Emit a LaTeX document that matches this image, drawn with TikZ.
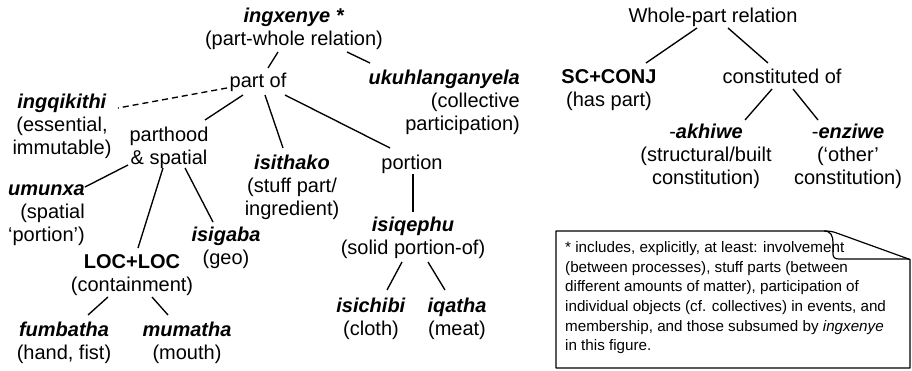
\documentclass[tikz,border=0pt]{standalone}
\usepackage{fontspec}
\setmainfont{Liberation Sans}
\newcommand{\mycl}[1]{\begin{tabular}[t]{@{}c@{}}#1\end{tabular}}
\newcommand{\myrl}[1]{\begin{tabular}[t]{@{}r@{}}#1\end{tabular}}
\newcommand{\myll}[1]{\begin{tabular}[t]{@{}l@{}}#1\end{tabular}}
\newcommand{\mybi}[1]{\textbf{\textit{#1}}}
\begin{document}
\begin{tikzpicture}[x=1pt,y=-1pt,
  lbl/.style={inner sep=0pt, anchor=base, font=\fontsize{20}{23}\selectfont},
  rlbl/.style={lbl, anchor=base east},
  conn/.style={line width=1.35pt, black},
  dashconn/.style={conn, dash pattern=on 6pt off 4pt},
  boxline/.style={line width=1.2pt, black, line join=round}]
\useasboundingbox (0,0) rectangle (912,371);
\fill[white] (0,0) rectangle (912,371);

% left tree
\node[lbl] (top) at (294,23) {\mycl{\mybi{ingxenye *}\\(part-whole relation)}};
\node[lbl] (partof) at (258,88) {part of};
\node[rlbl] (ukuh) at (520,85) {\myrl{\mybi{ukuhlanganyela}\\(collective\\participation)}};
\node[lbl] (ingq) at (62,109) {\mycl{\mybi{ingqikithi}\\(essential,\\immutable)}};
\node[lbl] (parthood) at (169,142) {\mycl{parthood\\\& spatial}};
\node[lbl] (isithako) at (292,170) {\mycl{\mybi{isithako}\\(stuff part/\\ingredient)}};
\node[lbl] (portion) at (412,170) {portion};
\node[rlbl] (umunxa) at (85,196) {\myrl{\mybi{umunxa}\\(spatial\\`portion')}};
\node[lbl] (isigaba) at (226,242) {\mycl{\mybi{isigaba}\\(geo)}};
\node[lbl] (loc) at (132,268) {\mycl{\textbf{LOC+LOC}\\(containment)}};
\node[lbl] (fumbatha) at (64,336) {\mycl{\mybi{fumbatha}\\(hand, fist)}};
\node[lbl] (mumatha) at (187,336) {\mycl{\mybi{mumatha}\\(mouth)}};
\node[lbl] (isiqephu) at (413,232) {\mycl{\mybi{isiqephu}\\(solid portion-of)}};
\node[lbl] (isichibi) at (371,312) {\mycl{\mybi{isichibi}\\(cloth)}};
\node[lbl] (iqatha) at (457,312) {\mycl{\mybi{iqatha}\\(meat)}};

% right tree
\node[lbl] (wp) at (713,23) {Whole-part relation};
\node[lbl] (sc) at (609,84) {\mycl{\textbf{SC+CONJ}\\(has part)}};
\node[lbl] (const) at (782,84) {constituted of};
\node[lbl] (akhiwe) at (706,139) {\mycl{-\mybi{akhiwe}\\(structural/built\\constitution)}};
\node[lbl] (enziwe) at (848,139) {\mycl{-\mybi{enziwe}\\(`other'\\constitution)}};

% connectors left
\draw[conn] ([shift={(-16,29)}]top.base) -- ([shift={(10,-20)}]partof.base);
\draw[conn] ([shift={(53,29)}]top.base) -- ([shift={(-150,-22)}]ukuh.base east);
\draw[dashconn] ([shift={(-31,0)}]partof.base) -- ([shift={(56,-1)}]ingq.base);
\draw[conn] ([shift={(-15,7)}]partof.base) -- ([shift={(36,-22)}]parthood.base);
\draw[conn] ([shift={(7,7)}]partof.base) -- ([shift={(-9,-22)}]isithako.base);
\draw[conn] ([shift={(27,7)}]partof.base) -- ([shift={(-22,-22)}]portion.base);
\draw[conn] ([shift={(1,4)}]portion.base) -- ([shift={(0,-20)}]isiqephu.base);
\draw[conn] ([shift={(-41,23)}]parthood.base) -- ([shift={(0,-9)}]umunxa.base east);
\draw[conn] ([shift={(-6,26)}]parthood.base) -- ([shift={(6,-20)}]loc.base);
\draw[conn] ([shift={(16,26)}]parthood.base) -- ([shift={(-13,-20)}]isigaba.base);
\draw[conn] ([shift={(-24,29)}]loc.base) -- ([shift={(24,-21)}]fumbatha.base);
\draw[conn] ([shift={(20,29)}]loc.base) -- ([shift={(-19,-21)}]mumatha.base);
\draw[conn] ([shift={(-11,30)}]isiqephu.base) -- ([shift={(16,-22)}]isichibi.base);
\draw[conn] ([shift={(15,30)}]isiqephu.base) -- ([shift={(-12,-22)}]iqatha.base);

% connectors right
\draw[conn] ([shift={(-16,5)}]wp.base) -- ([shift={(37,-21)}]sc.base);
\draw[conn] ([shift={(15,5)}]wp.base) -- ([shift={(-14,-21)}]const.base);
\draw[conn] ([shift={(-10,5)}]const.base) -- ([shift={(39,-19)}]akhiwe.base);
\draw[conn] ([shift={(11,5)}]const.base) -- ([shift={(-30,-19)}]enziwe.base);

% note box with folded corner
\draw[boxline] (556,231) -- (824,231) .. controls (830,231) and (833,231.5) .. (838,233.5) -- (910,259.5) -- (910,368) -- (556,368) -- cycle;
\draw[boxline] (824,231) .. controls (831,231) and (833,236) .. (833,243) -- (833,254) .. controls (833,257.5) and (835,259) .. (839,259) -- (906,259) .. controls (908,259) and (909,259.2) .. (910,259.5);
\node[anchor=base west, inner sep=0pt, font=\fontsize{15.2}{19.5}\selectfont] (note) at (565,253) {\myll{* includes, explicitly, at least: involvement\\(between processes), stuff parts (between\\different amounts of matter), participation of\\individual objects (cf. collectives) in events, and\\membership, and those subsumed by \textit{ingxenye}\\in this figure.}};
\end{tikzpicture}
\end{document}
